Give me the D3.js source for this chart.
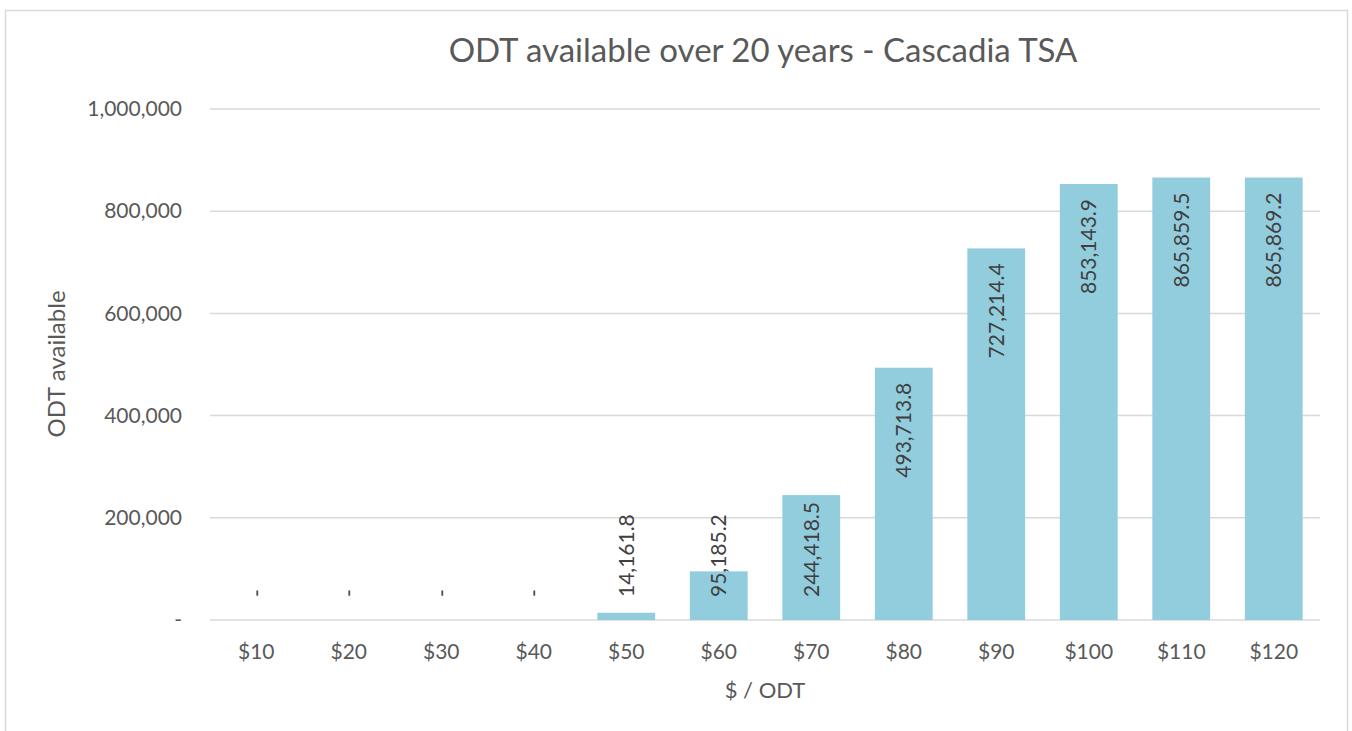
<!DOCTYPE html>
<html>
<head>
<meta charset="utf-8">
<script src="https://cdn.jsdelivr.net/npm/d3@7"></script>
<style>
  body { margin: 0; background: #fff; }
  svg text { font-family: Lato, "Open Sans", sans-serif; }
</style>
</head>
<body>
<svg id="canvas"></svg>
<script>
// ODT available over 20 years - Cascadia TSA
let prices = ['$10', '$20', '$30', '$40', '$50', '$60', '$70', '$80', '$90', '$100', '$110', '$120']
let odtValues = [0, 0, 0, 0, 14161.8, 95185.2, 244418.5, 493713.8, 727214.4, 853143.9, 865859.5, 865869.2]
let yTicks = [0, 200000, 400000, 600000, 800000, 1000000]

let width = 1352
let height = 731
let plotLeft = 210, plotRight = 1320, plotTop = 109, plotBottom = 620

let svg = d3.select('#canvas')
            .attr('width', width)
            .attr('height', height)

// chart frame
svg.append('rect')
    .attr('x', 5.5).attr('y', 10.5)
    .attr('width', 1342).attr('height', 740)
    .attr('fill', 'none')
    .attr('stroke', '#d9d9d9')
    .attr('stroke-width', 1.5)

let xScale = d3.scaleBand()
                .domain(prices)
                .range([plotLeft, plotRight])
                .paddingInner(0.375)
                .paddingOuter(0.1875)

let yScale = d3.scaleLinear()
                .domain([0, 1000000])
                .range([plotBottom, plotTop])

let fmt = d3.format(',')

// gridlines
svg.append('g')
    .selectAll('line')
    .data(yTicks)
    .enter()
    .append('line')
    .attr('x1', plotLeft)
    .attr('x2', plotRight)
    .attr('y1', (d) => yScale(d))
    .attr('y2', (d) => yScale(d))
    .attr('stroke', '#d9d9d9')
    .attr('stroke-width', 1.5)

// y axis labels
let yAxis = d3.axisLeft(yScale)
                .tickValues(yTicks)
                .tickSize(0)
                .tickPadding(28)
                .tickFormat((d) => d === 0 ? '-' : fmt(d))

svg.append('g')
    .attr('transform', 'translate(' + plotLeft + ',0)')
    .call(yAxis)
    .call((g) => g.select('.domain').remove())
    .selectAll('text')
    .attr('font-size', 21)
    .attr('fill', '#595959')

// x axis labels
let xAxis = d3.axisBottom(xScale).tickSize(0).tickPadding(24)

svg.append('g')
    .attr('transform', 'translate(0,' + plotBottom + ')')
    .call(xAxis)
    .call((g) => g.select('.domain').remove())
    .selectAll('text')
    .attr('font-size', 21)
    .attr('fill', '#595959')

// bars
svg.append('g')
    .selectAll('rect')
    .data(odtValues)
    .enter()
    .append('rect')
    .attr('x', (d, i) => xScale(prices[i]))
    .attr('y', (d) => yScale(d))
    .attr('width', xScale.bandwidth())
    .attr('height', (d) => plotBottom - yScale(d))
    .attr('fill', '#92cddd')

// data labels, rotated, inside end unless they don't fit
let labelFloor = plotBottom - 23
svg.append('g')
    .selectAll('text')
    .data(odtValues)
    .enter()
    .append('text')
    .text((d) => d === 0 ? '-' : d3.format(',.1f')(d))
    .attr('font-size', 21)
    .attr('fill', '#404040')
    .attr('dy', '0.35em')
    .each(function (d, i) {
        let len = this.getComputedTextLength()
        let cx = xScale(prices[i]) + xScale.bandwidth() / 2
        let topY = yScale(d) + 15
        let self = d3.select(this)
        if (topY + len > labelFloor) {
            self.attr('text-anchor', 'start')
                .attr('transform', 'translate(' + cx + ',' + labelFloor + ') rotate(-90)')
        } else {
            self.attr('text-anchor', 'end')
                .attr('transform', 'translate(' + cx + ',' + topY + ') rotate(-90)')
        }
    })

// title
svg.append('text')
    .attr('x', 763)
    .attr('y', 62)
    .attr('text-anchor', 'middle')
    .attr('font-size', 33)
    .attr('fill', '#595959')
    .text('ODT available over 20 years - Cascadia TSA')

// axis titles
svg.append('text')
    .attr('x', (plotLeft + plotRight) / 2)
    .attr('y', 698)
    .attr('text-anchor', 'middle')
    .attr('font-size', 22)
    .attr('fill', '#595959')
    .text('$ / ODT')

svg.append('text')
    .attr('transform', 'translate(65,' + 364 + ') rotate(-90)')
    .attr('text-anchor', 'middle')
    .attr('font-size', 24)
    .attr('fill', '#595959')
    .text('ODT available')
</script>
</body>
</html>
